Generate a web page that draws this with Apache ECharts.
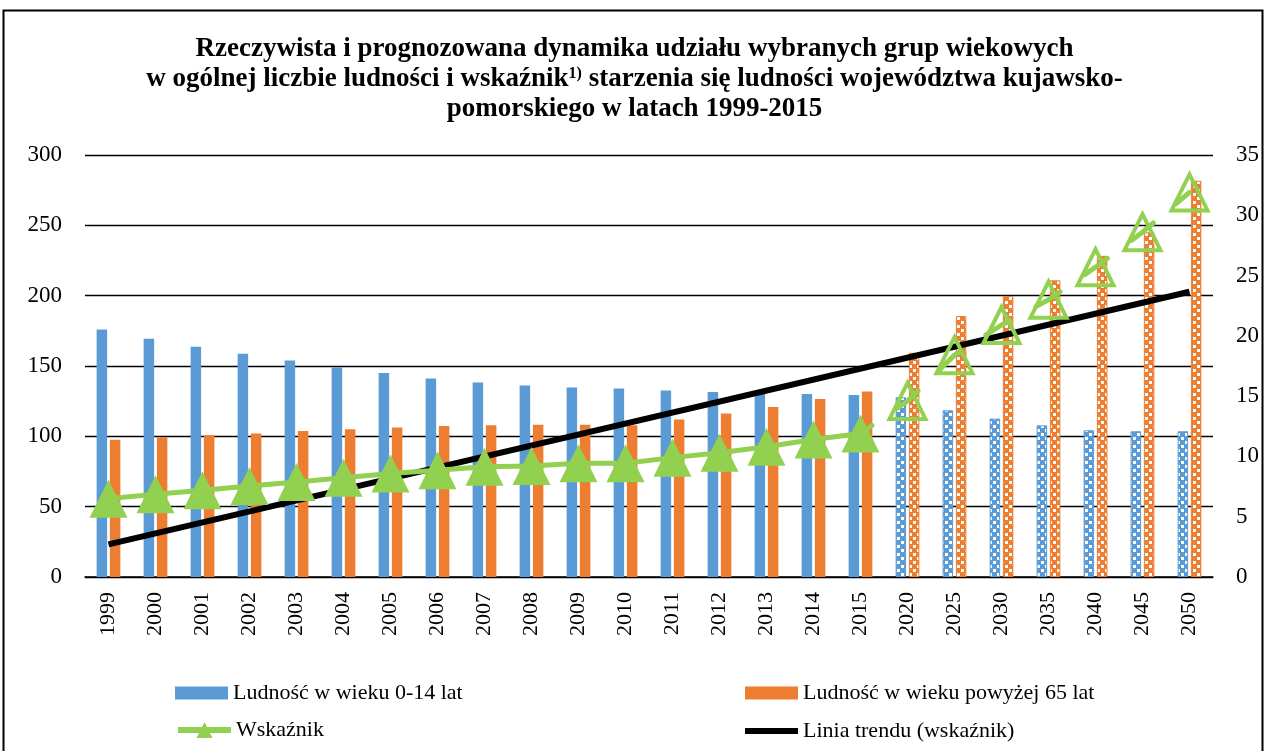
<!DOCTYPE html>
<html lang="pl">
<head>
    <meta charset="UTF-8">
    <script src="https://cdn.jsdelivr.net/npm/echarts@6/dist/echarts.min.js"></script>
    <style>
        html, body { margin: 0; padding: 0; background: #fff; }
        #chart { width: 1269px; height: 751px; }
    </style>
    <title>Wskaźnik starzenia</title>
</head>
<body>
<div id="chart"></div>
<script type="text/javascript">
    // lata: rzeczywiste 1999-2015, prognoza 2020-2050
    var years = ['1999','2000','2001','2002','2003','2004','2005','2006','2007','2008','2009','2010',
        '2011','2012','2013','2014','2015','2020','2025','2030','2035','2040','2045','2050'];
    var forecastFrom = 17; // indeks pierwszego roku prognozy (2020)

    // ludność 0-14 lat
    var youngPop = [176, 169.4, 163.7, 158.7, 153.9, 149.2, 145.1, 141.1, 138.2, 136.1, 134.7, 134,
        132.5, 131.6, 130.4, 130.1, 129.4, 127.8, 118.5, 112.6, 107.8, 104.3, 103.6, 103.6];
    // ludność powyżej 65 lat
    var oldPop = [97.6, 99.3, 100.7, 102.1, 103.8, 105, 106.2, 107.4, 107.8, 108.3, 108.3, 107.8,
        111.9, 116.2, 120.9, 126.6, 131.8, 159.4, 185.5, 199.8, 210.9, 228.3, 245, 281.7];
    // wskaźnik - dane rzeczywiste 1999-2015
    var agingIndex = [6.5, 6.86, 7.19, 7.55, 7.88, 8.24, 8.59, 8.85, 9.14, 9.2, 9.43, 9.43,
        9.9, 10.3, 10.8, 11.4, 11.9];
    // wskaźnik - prognoza 2020-2050
    var agingForecast = [14.6, 18.4, 20.9, 23.0, 25.7, 28.6, 31.9];
    // linia trendu - wartości na końcach
    var trendStart = 2.71;
    var trendEnd = 23.66;

    var BLUE = '#5B9BD5';
    var ORANGE = '#ED7D31';
    var GREEN = '#92D050';
    var FONT = 'Liberation Serif';

    // wzór szachownicy dla słupków prognozy
    function checker(color) {
        var c = document.createElement('canvas');
        c.width = 8;
        c.height = 8;
        var ctx = c.getContext('2d');
        ctx.fillStyle = color;
        ctx.fillRect(0, 0, 8, 8);
        ctx.fillStyle = '#fff';
        ctx.fillRect(1, 1, 3, 3);
        ctx.fillRect(5, 5, 3, 3);
        return { image: c, repeat: 'repeat' };
    }

    function barData(values, color) {
        var pattern = checker(color);
        return values.map(function (v, i) {
            if (i < forecastFrom) return v;
            return { value: v, itemStyle: { color: pattern, borderColor: color, borderWidth: 1 } };
        });
    }

    var actualLine = years.map(function (y, i) { return i < forecastFrom ? agingIndex[i] : null; });
    var forecastLine = years.map(function (y, i) {
        if (i === forecastFrom - 1) return { value: agingIndex[i], symbol: 'none' };
        if (i >= forecastFrom) return agingForecast[i - forecastFrom];
        return null;
    });
    var trendLine = years.map(function (y, i) {
        if (i === 0) return trendStart;
        if (i === years.length - 1) return trendEnd;
        return null;
    });

    function legendText() {
        return { fontFamily: FONT, fontSize: 22, color: '#000' };
    }

    var chart = echarts.init(document.getElementById('chart'));
    var option = {
        animation: false,
        textStyle: { fontFamily: FONT },
        title: {
            text: 'Rzeczywista i prognozowana dynamika udziału wybranych grup wiekowych\n' +
                'w ogólnej liczbie ludności i wskaźnik{sup|1)} starzenia się ludności województwa kujawsko-\n' +
                'pomorskiego w latach 1999-2015',
            left: 'center',
            top: 29,
            textStyle: {
                fontFamily: FONT,
                fontSize: 27,
                fontWeight: 'bold',
                color: '#000',
                lineHeight: 30,
                rich: {
                    sup: { fontFamily: FONT, fontSize: 16, fontWeight: 'bold', color: '#000', verticalAlign: 'top', padding: [2, 0, 0, 0] }
                }
            }
        },
        graphic: [{
            type: 'rect',
            shape: { x: 3.5, y: 10.5, width: 1259, height: 780 },
            style: { fill: 'none', stroke: '#000', lineWidth: 2 },
            silent: true
        }],
        legend: [
            { data: [{ name: 'Ludność w wieku 0-14 lat', icon: 'rect' }], left: 175, top: 682, padding: 0,
                itemWidth: 53, itemHeight: 13, textStyle: legendText() },
            { data: [{ name: 'Ludność w wieku powyżej 65 lat', icon: 'rect' }], left: 745, top: 682, padding: 0,
                itemWidth: 53, itemHeight: 13, textStyle: legendText() },
            { data: ['Wskaźnik'], left: 175, top: 719, padding: 0, itemWidth: 53, itemHeight: 20,
                lineStyle: { width: 6 }, textStyle: legendText() },
            { data: [{ name: 'Linia trendu (wskaźnik)', icon: 'rect' }], left: 745, top: 720, padding: 0,
                itemWidth: 53, itemHeight: 6, itemStyle: { color: '#000' }, textStyle: legendText() }
        ],
        grid: { left: 85, right: 56, top: 155, bottom: 174, containLabel: false },
        xAxis: {
            type: 'category',
            data: years,
            axisLine: { lineStyle: { color: '#000', width: 1.5 } },
            axisTick: { show: false },
            axisLabel: { rotate: 90, margin: 15, fontFamily: FONT, fontSize: 22, color: '#000' }
        },
        yAxis: [{
            type: 'value',
            min: 0, max: 300, interval: 50,
            axisLine: { show: false },
            axisTick: { show: false },
            axisLabel: { margin: 23, fontFamily: FONT, fontSize: 23, color: '#000' },
            splitLine: { lineStyle: { color: '#000', width: 1.3 } }
        }, {
            type: 'value',
            min: 0, max: 35, interval: 5,
            axisLine: { show: false },
            axisTick: { show: false },
            axisLabel: { margin: 23, fontFamily: FONT, fontSize: 23, color: '#000' },
            splitLine: { show: false }
        }],
        series: [{
            name: 'Ludność w wieku 0-14 lat',
            type: 'bar',
            barWidth: 10.5,
            barGap: '26%',
            itemStyle: { color: BLUE },
            data: barData(youngPop, BLUE)
        }, {
            name: 'Ludność w wieku powyżej 65 lat',
            type: 'bar',
            barWidth: 10.5,
            barGap: '26%',
            itemStyle: { color: ORANGE },
            data: barData(oldPop, ORANGE)
        }, {
            name: 'Linia trendu (wskaźnik)',
            type: 'line',
            yAxisIndex: 1,
            symbol: 'none',
            connectNulls: true,
            lineStyle: { color: '#000', width: 6 },
            itemStyle: { color: '#000' },
            z: 3,
            data: trendLine
        }, {
            name: 'Wskaźnik',
            type: 'line',
            yAxisIndex: 1,
            symbol: 'triangle',
            symbolSize: 38,
            lineStyle: { color: GREEN, width: 5 },
            itemStyle: { color: GREEN },
            z: 4,
            data: actualLine
        }, {
            name: 'Wskaźnik (prognoza)',
            type: 'line',
            yAxisIndex: 1,
            symbol: 'triangle',
            symbolSize: 36,
            lineStyle: { color: GREEN, width: 5, type: [28, 30], dashOffset: 14, cap: 'round' },
            itemStyle: { color: 'rgba(255,255,255,0)', borderColor: GREEN, borderWidth: 4 },
            z: 4,
            data: forecastLine
        }]
    };
    chart.setOption(option);
</script>
</body>
</html>
